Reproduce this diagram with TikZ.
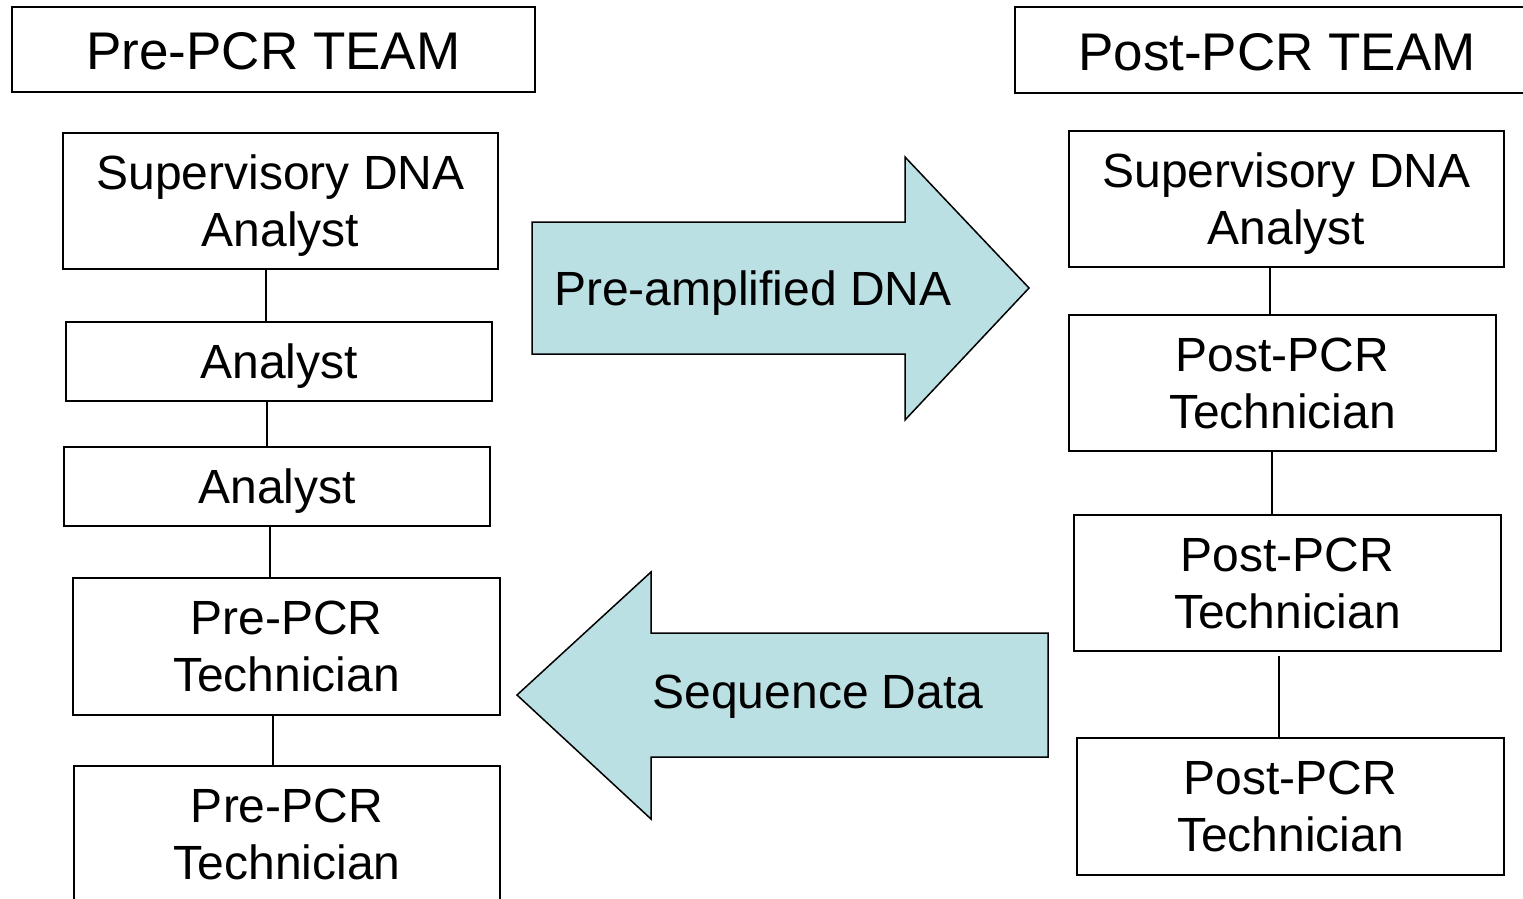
\documentclass[tikz,border=0pt]{standalone}
\usepackage{fontspec}
\setmainfont{Liberation Sans}
\definecolor{arrowfill}{RGB}{187,224,227}
\newcommand\nodepth[1]{\raisebox{0pt}[\height][0pt]{#1}}
\tikzset{
  txt/.style={align=center, font=\fontsize{48}{55}\selectfont,
    execute at begin node={\rule{0pt}{45pt}},
    execute at end node={\rule[-10.2pt]{0pt}{10.2pt}}},
  box/.style={txt, draw=black, line width=1.8pt, rectangle, inner sep=0pt},
  twobox/.style={draw=black, line width=1.8pt, rectangle, inner sep=0pt, align=center,
    font=\fontsize{48}{57}\selectfont},
  teambox/.style={draw=black, line width=1.8pt, rectangle, inner sep=0pt, align=center,
    font=\fontsize{53}{60}\selectfont,
    execute at begin node={\rule{0pt}{52pt}},
    execute at end node={\rule[-11.2pt]{0pt}{11.2pt}}},
  link/.style={draw=black, line width=1.5pt},
  bigarrow/.style={draw=black, line width=1.5pt, fill=arrowfill, line join=miter},
  arrowtext/.style={txt, inner sep=0pt}
}
\begin{document}
\begin{tikzpicture}[x=1pt,y=-1pt]
\useasboundingbox (0,0) rectangle (1523,899);
\clip (0,0) rectangle (1523,899);
\fill[white] (0,0) rectangle (1523,899);

% teams
\node[teambox, minimum width=523, minimum height=85] (lteam) at (273.5,49.5) {Pre-PCR TEAM};
\node[teambox, minimum width=524, minimum height=86] (rteam) at (1277,50) {Post-PCR TEAM};

% left column
\node[twobox, minimum width=435, minimum height=136] (ls) at (280.5,201) {Supervisory DNA\\\nodepth{Analyst}};
\node[box, minimum width=426, minimum height=79] (la1) at (279,361.5) {Analyst};
\node[box, minimum width=426, minimum height=79] (la2) at (277,486.5) {Analyst};
\node[twobox, minimum width=427, minimum height=137] (lt1) at (286.5,646.5) {Pre-PCR\\Technician};
\node[twobox, minimum width=426, minimum height=137] (lt2) at (287,834.5) {Pre-PCR\\Technician};

% right column
\node[twobox, minimum width=435, minimum height=136] (rs) at (1286.5,199) {Supervisory DNA\\\nodepth{Analyst}};
\node[twobox, minimum width=427, minimum height=136] (rt1) at (1282.5,383) {Post-PCR\\Technician};
\node[twobox, minimum width=427, minimum height=136] (rt2) at (1287.5,583) {Post-PCR\\Technician};
\node[twobox, minimum width=427, minimum height=137] (rt3) at (1290.5,806.5) {Post-PCR\\Technician};

% connectors
\draw[link] ([xshift=-14.5]ls.south) -- ([xshift=-14.5]ls.south |- la1.north);
\draw[link] ([xshift=-12]la1.south) -- ([xshift=-12]la1.south |- la2.north);
\draw[link] ([xshift=-7]la2.south) -- ([xshift=-7]la2.south |- lt1.north);
\draw[link] ([xshift=-13.5]lt1.south) -- ([xshift=-13.5]lt1.south |- lt2.north);
\draw[link] ([xshift=-16.5]rs.south) -- ([xshift=-16.5]rs.south |- rt1.north);
\draw[link] ([xshift=-10.5]rt1.south) -- ([xshift=-10.5]rt1.south |- rt2.north);
\draw[link] ([xshift=-8.5,yshift=-4]rt2.south) -- ([xshift=-8.5]rt2.south |- rt3.north);

% big arrows
\draw[bigarrow] (532,222) -- (905,222) -- (905,157) -- (1029,288) -- (905,420) -- (905,354) -- (532,354) -- cycle;
\node[arrowtext] (pa) at (753,287.6) {Pre-amplified DNA};

\draw[bigarrow] (1048,633) -- (651,633) -- (651,572) -- (517,695) -- (651,819) -- (651,757) -- (1048,757) -- cycle;
\node[arrowtext] (sd) at (818,690.6) {Sequence Data};
\end{tikzpicture}
\end{document}
